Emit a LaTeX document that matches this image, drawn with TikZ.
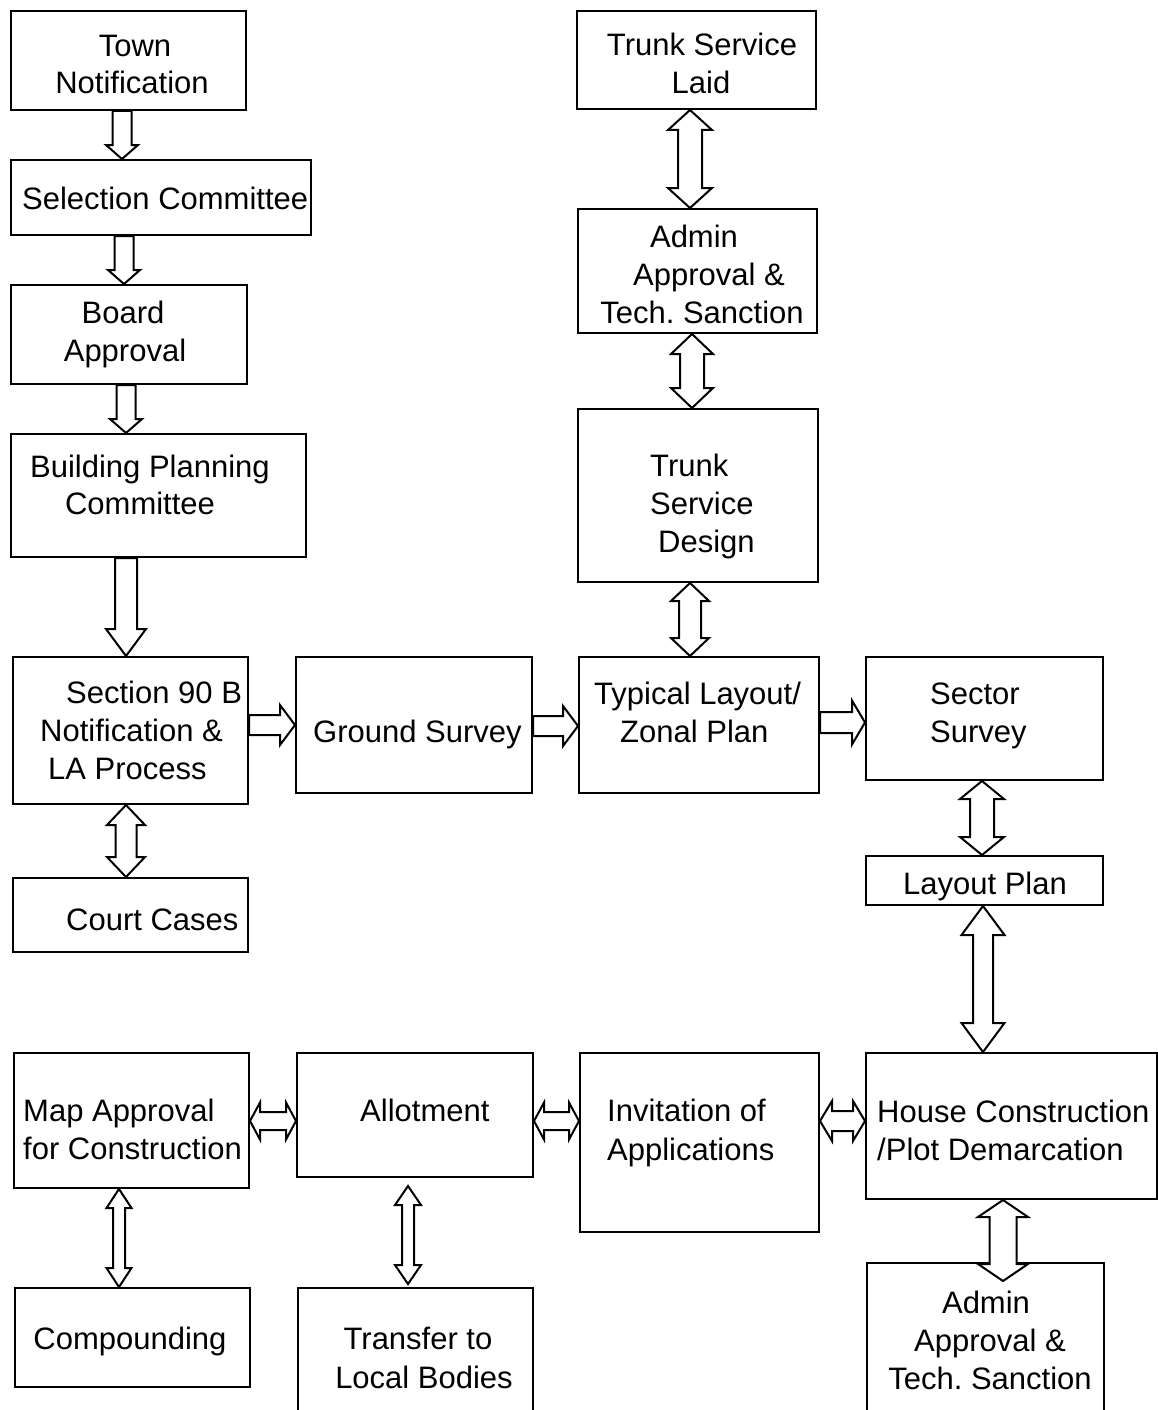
\documentclass[tikz,border=0pt]{standalone}
\usepackage{fontspec}
\setmainfont{Liberation Sans}
\usetikzlibrary{calc}
\tikzset{
  box/.style={draw=black, line width=2pt, fill=white, inner sep=0pt, rectangle},
  blk/.style={draw=black, line width=2pt, fill=white, line join=miter},
  txt/.style={inner sep=0pt, font=\fontsize{31}{38}\selectfont\frenchspacing},
}
% single down arrow: from, to, xc, shaft half width, head half width, head length
\newcommand\arrD[6]{\draw[blk] let \p1=(#1), \p2=(#2) in
 ({#3pt-#4pt},\y1) -- ({#3pt+#4pt},\y1) -- ({#3pt+#4pt},{\y2+#6pt}) -- ({#3pt+#5pt},{\y2+#6pt}) -- (#3pt,\y2) -- ({#3pt-#5pt},{\y2+#6pt}) -- ({#3pt-#4pt},{\y2+#6pt}) -- cycle;}
% double vertical arrow
\newcommand\arrV[6]{\draw[blk] let \p1=(#1), \p2=(#2) in
 (#3pt,\y1) -- ({#3pt+#5pt},{\y1-#6pt}) -- ({#3pt+#4pt},{\y1-#6pt}) -- ({#3pt+#4pt},{\y2+#6pt}) -- ({#3pt+#5pt},{\y2+#6pt}) -- (#3pt,\y2) -- ({#3pt-#5pt},{\y2+#6pt}) -- ({#3pt-#4pt},{\y2+#6pt}) -- ({#3pt-#4pt},{\y1-#6pt}) -- ({#3pt-#5pt},{\y1-#6pt}) -- cycle;}
% single right arrow: from, to, yc (downwards), sw, hw, hl
\newcommand\arrR[6]{\draw[blk] let \p1=(#1), \p2=(#2) in
 (\x1,{-#3pt+#4pt}) -- ({\x2-#6pt},{-#3pt+#4pt}) -- ({\x2-#6pt},{-#3pt+#5pt}) -- (\x2,-#3pt) -- ({\x2-#6pt},{-#3pt-#5pt}) -- ({\x2-#6pt},{-#3pt-#4pt}) -- (\x1,{-#3pt-#4pt}) -- cycle;}
% double horizontal arrow
\newcommand\arrH[6]{\draw[blk] let \p1=(#1), \p2=(#2) in
 (\x1,-#3pt) -- ({\x1+#6pt},{-#3pt+#5pt}) -- ({\x1+#6pt},{-#3pt+#4pt}) -- ({\x2-#6pt},{-#3pt+#4pt}) -- ({\x2-#6pt},{-#3pt+#5pt}) -- (\x2,-#3pt) -- ({\x2-#6pt},{-#3pt-#5pt}) -- ({\x2-#6pt},{-#3pt-#4pt}) -- ({\x1+#6pt},{-#3pt-#4pt}) -- ({\x1+#6pt},{-#3pt-#5pt}) -- cycle;}
\begin{document}
\begin{tikzpicture}[x=1pt,y=-1pt]
\useasboundingbox[fill=white] (0,0) rectangle (1158,1410);
% boxes
\node[box, minimum width=235pt, minimum height=99pt] (town) at (128.5,60.5) {};
\node[box, minimum width=300pt, minimum height=75pt] (sel) at (161,197.5) {};
\node[box, minimum width=236pt, minimum height=99pt] (board) at (129,334.5) {};
\node[box, minimum width=295pt, minimum height=123pt] (bpc) at (158.5,495.5) {};
\node[box, minimum width=235pt, minimum height=147pt] (sec) at (130.5,730.5) {};
\node[box, minimum width=235pt, minimum height=74pt] (court) at (130.5,915) {};
\node[box, minimum width=236pt, minimum height=136pt] (ground) at (414,725) {};
\node[box, minimum width=240pt, minimum height=136pt] (typ) at (699,725) {};
\node[box, minimum width=237pt, minimum height=123pt] (sector) at (984.5,718.5) {};
\node[box, minimum width=237pt, minimum height=49pt] (layout) at (984.5,880.5) {};
\node[box, minimum width=239pt, minimum height=98pt] (tsl) at (696.5,60) {};
\node[box, minimum width=239pt, minimum height=124pt] (adm1) at (697.5,271) {};
\node[box, minimum width=240pt, minimum height=173pt] (tsd) at (698,495.5) {};
\node[box, minimum width=235pt, minimum height=135pt] (map) at (131.5,1120.5) {};
\node[box, minimum width=236pt, minimum height=124pt] (allot) at (415,1115) {};
\node[box, minimum width=239pt, minimum height=179pt] (inv) at (699.5,1142.5) {};
\node[box, minimum width=291pt, minimum height=146pt] (house) at (1011.5,1126) {};
\node[box, minimum width=235pt, minimum height=99pt] (comp) at (132.5,1337.5) {};
\node[box, minimum width=235pt, minimum height=142pt] (trans) at (415.5,1359) {};
\node[box, minimum width=237pt, minimum height=167pt] (adm2) at (985.5,1346.5) {};
% texts
\node[txt, anchor=base] (town1) at (135,57) {Town};
\node[txt, anchor=base] (town2) at (132,94) {Notification};
\node[txt, anchor=base west] (sel1) at (22,209) {Selection Committee};
\node[txt, anchor=base] (board1) at (123,323) {Board};
\node[txt, anchor=base] (board2) at (125,361) {Approval};
\node[txt, anchor=base west] (bpc1) at (30,477) {Building Planning};
\node[txt, anchor=base] (bpc2) at (140,514) {Committee};
\node[txt, anchor=base west] (sec1) at (66,703) {Section 90 B};
\node[txt, anchor=base west] (sec2) at (40,741) {Notification \&};
\node[txt, anchor=base west] (sec3) at (48,779) {LA Process};
\node[txt, anchor=base west] (court1) at (66,930) {Court Cases};
\node[txt, anchor=base west] (ground1) at (313,742) {Ground Survey};
\node[txt, anchor=base west] (typ1) at (594,704) {Typical Layout/};
\node[txt, anchor=base west] (typ2) at (620,742) {Zonal Plan};
\node[txt, anchor=base west] (sector1) at (930,704) {Sector};
\node[txt, anchor=base west] (sector2) at (930,742) {Survey};
\node[txt, anchor=base] (layout1) at (985,894) {Layout Plan};
\node[txt, anchor=base] (tsl1) at (702,56) {Trunk Service};
\node[txt, anchor=base] (tsl2) at (701,94) {Laid};
\node[txt, anchor=base] (adm11) at (694,247) {Admin};
\node[txt, anchor=base] (adm12) at (709,285) {Approval \&};
\node[txt, anchor=base] (adm13) at (702,323) {Tech. Sanction};
\node[txt, anchor=base west] (tsd1) at (650,476) {Trunk};
\node[txt, anchor=base west] (tsd2) at (650,514) {Service};
\node[txt, anchor=base west] (tsd3) at (658,552) {Design};
\node[txt, anchor=base west] (map1) at (23,1121) {Map Approval};
\node[txt, anchor=base west] (map2) at (23,1159) {for Construction};
\node[txt, anchor=base west] (allot1) at (360,1121) {Allotment};
\node[txt, anchor=base west] (inv1) at (607,1121) {Invitation of};
\node[txt, anchor=base west] (inv2) at (607,1160) {Applications};
\node[txt, anchor=base west] (house1) at (877,1122) {House Construction};
\node[txt, anchor=base west] (house2) at (877,1160) {/Plot Demarcation};
\node[txt, anchor=base] (comp1) at (130,1349) {Compounding};
\node[txt, anchor=base] (trans1) at (418,1349) {Transfer to};
\node[txt, anchor=base] (trans2) at (424,1388) {Local Bodies};
\node[txt, anchor=base] (adm21) at (986,1313) {Admin};
\node[txt, anchor=base] (adm22) at (990,1351) {Approval \&};
\node[txt, anchor=base] (adm23) at (990,1389) {Tech. Sanction};
% arrows
\arrD{town.south}{sel.north}{122}{9.5}{16}{14}
\arrD{sel.south}{board.north}{124}{9.5}{16}{14}
\arrD{board.south}{bpc.north}{126}{9.5}{16}{14}
\arrD{bpc.south}{sec.north}{126}{11}{20}{27}
\arrV{sec.south}{court.north}{126}{10.5}{19}{20}
\arrR{sec.east}{ground.west}{725}{10}{20}{15}
\arrR{ground.east}{typ.west}{726}{10}{20}{15}
\arrR{typ.east}{sector.west}{722.5}{10.5}{22}{13}
\arrV{tsl.south}{adm1.north}{690}{12}{22}{20}
\arrV{adm1.south}{tsd.north}{692}{12}{21}{20}
\arrV{tsd.south}{typ.north}{690}{11}{19}{18}
\arrV{sector.south}{layout.north}{982}{12}{22}{18}
\arrV{layout.south}{house.north}{983}{10}{21.5}{29}
\arrH{map.east}{allot.west}{1121}{9}{18.5}{10}
\arrH{allot.east}{inv.west}{1121}{9}{18.5}{10}
\arrH{inv.east}{house.west}{1121}{10}{20}{12}
\arrV{map.south}{comp.north}{119}{6}{12.5}{19}
\arrV{$(allot.south)+(0,8)$}{$(trans.north)+(0,-3)$}{408}{6}{13}{19}
\arrV{house.south}{$(adm2.north)+(0,19)$}{1003}{13.5}{25}{17}
\end{tikzpicture}
\end{document}
